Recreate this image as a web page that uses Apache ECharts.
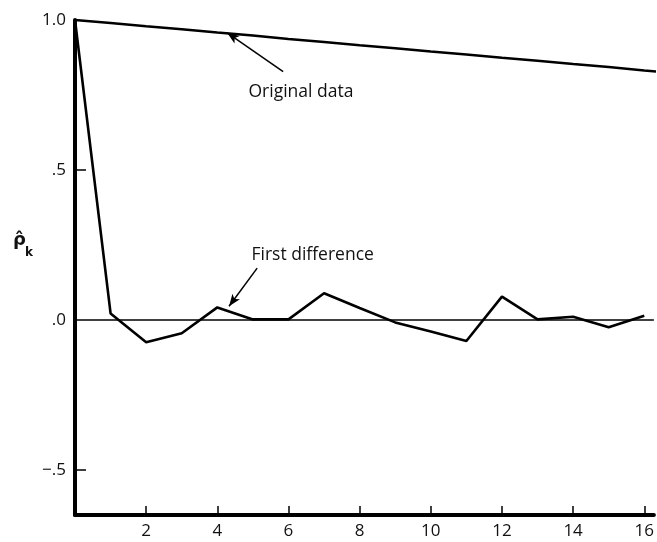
<!DOCTYPE html>
<html>
<head>
<meta charset="utf-8">
<script src="https://cdn.jsdelivr.net/npm/echarts@6/dist/echarts.min.js"></script>
<style>
html,body{margin:0;padding:0;background:#fff;}
#c{width:657px;height:542px;}
</style>
</head>
<body>
<div id="c"></div>
<script>
// Lags (x) and autocorrelation values
var lags = [0,1,2,3,4,5,6,7,8,9,10,11,12,13,14,15,16];
var lagsOriginal = [0,1,2,3,4,5,6,7,8,9,10,11,12,13,14,15,16,17];
var originalData = [1.00,0.99,0.979,0.969,0.958,0.948,0.937,0.927,0.916,0.906,0.895,0.885,0.874,0.864,0.853,0.843,0.832,0.822];
var firstDifference = [1.00,0.022,-0.074,-0.044,0.042,0.002,0.002,0.089,0.04,-0.008,-0.038,-0.07,0.078,0.002,0.011,-0.024,0.014];
var xTickValues = [2,4,6,8,10,12,14,16];
var yLabelValues = [1.0,0.5,0,-0.5];
var yLabelTexts = ['1.0','.5','.0','\u2212.5'];
var yTickValues = [0.5,-0.5];
// annotations (data coordinates)
var origArrow = {from:[5.85,0.828], to:[4.28,0.957]};
var origText = {at:[6.35,0.76], text:'Original data'};
var diffArrow = {from:[5.12,0.173], to:[4.33,0.046]};
var diffText = {at:[6.68,0.215], text:'First difference'};

function zip(xs, ys){ return ys.map(function(v,i){ return [xs[i], v]; }); }

var FONT = 'Open Sans';
var chart = echarts.init(document.getElementById('c'), null, {renderer:'canvas'});
chart.setOption({
  animation:false,
  backgroundColor:'#ffffff',
  grid:{left:75, top:20, width:582, height:495, containLabel:false},
  xAxis:{
    type:'value', min:0, max:16.27, position:'bottom',
    axisLine:{show:true, onZero:false, lineStyle:{color:'#000', width:4}},
    axisTick:{show:true, inside:true, length:9, customValues:xTickValues, lineStyle:{color:'#000', width:1.5}},
    axisLabel:{show:true, customValues:xTickValues, margin:8, color:'#111', fontSize:17, fontFamily:FONT},
    splitLine:{show:false}
  },
  yAxis:{
    type:'value', min:-0.65, max:1.0,
    axisLine:{show:true, onZero:false, lineStyle:{color:'#000', width:4}},
    axisTick:{show:true, inside:true, length:11, customValues:yTickValues, lineStyle:{color:'#000', width:1.5}},
    axisLabel:{show:true, customValues:yLabelValues, margin:9, color:'#111', fontSize:17, fontFamily:FONT,
      formatter:function(v){ for(var i=0;i<yLabelValues.length;i++){ if(Math.abs(yLabelValues[i]-v)<1e-9) return yLabelTexts[i]; } return ''; }},
    splitLine:{show:false}
  },
  graphic:[{
    type:'text', left:13, top:231,
    style:{text:'\u03C1\u0302', font:'bold 18px "DejaVu Sans"', fill:'#111'}
  },{
    type:'text', left:25, top:247,
    style:{text:'k', font:'bold 12px "DejaVu Sans"', fill:'#111'}
  }],
  series:[{
    type:'line', name:'Original data', data:zip(lagsOriginal, originalData),
    symbol:'none', clip:true, lineStyle:{color:'#000', width:2.5}, z:3
  },{
    type:'line', name:'First difference', data:zip(lags, firstDifference),
    symbol:'none', clip:true, lineStyle:{color:'#000', width:2.6}, z:3,
    markLine:{
      silent:true, symbol:'none', label:{show:false},
      lineStyle:{color:'#000', width:1.6, type:'solid'},
      data:[{yAxis:0}]
    }
  },{
    type:'line', data:[], symbol:'none',
    markLine:{
      silent:true, label:{show:false}, symbol:['none','arrow'], symbolSize:[7,12],
      lineStyle:{color:'#000', width:1.5, type:'solid'},
      data:[
        [{coord:origArrow.from},{coord:origArrow.to}],
        [{coord:diffArrow.from},{coord:diffArrow.to}]
      ]
    },
    markPoint:{
      silent:true, symbol:'circle', symbolSize:0,
      label:{show:true, position:'inside', color:'#111', fontSize:17.5, fontFamily:FONT, formatter:'{b}'},
      data:[
        {name:origText.text, coord:origText.at},
        {name:diffText.text, coord:diffText.at}
      ]
    }
  }]
});
</script>
</body>
</html>
